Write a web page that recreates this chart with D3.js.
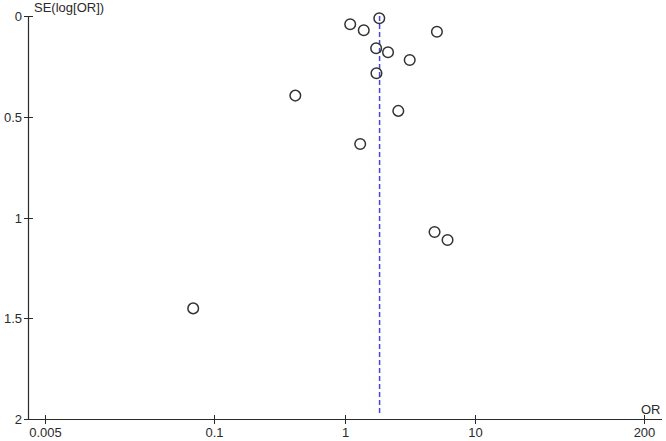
<!DOCTYPE html>
<html>
<head>
<meta charset="utf-8">
<script src="https://cdn.jsdelivr.net/npm/d3@7"></script>
<style>
  html, body { margin: 0; padding: 0; background: #fff; }
  svg { display: block; }
  text { font-family: "Liberation Sans", Arial, sans-serif; }
</style>
</head>
<body>
<svg id="chart" width="666" height="441"></svg>
<script>
// Study odds ratios and standard errors of log(OR)
const oddsRatios = [1.85, 1.106, 1.406, 5.13, 1.75, 2.16, 3.17, 1.76, 0.419, 2.59, 1.32, 4.92, 6.19, 0.0688];
const standardErrors = [0.011, 0.041, 0.071, 0.078, 0.160, 0.180, 0.218, 0.284, 0.395, 0.471, 0.635, 1.072, 1.112, 1.451];
const pooledOR = [1.86];
const xTickValues = [0.005, 0.1, 1, 10, 200];
const xTickLabels = ["0.005", "0.1", "1", "10", "200"];
const yTickValues = [0, 0.5, 1, 1.5, 2];
const yTickLabels = ["0", "0.5", "1", "1.5", "2"];
const xAxisTitle = "OR";
const yAxisTitle = "SE(log[OR])";

const svg = d3.select("#chart");
const axisX0 = 28, axisX1 = 662;

const x = d3.scaleLog().domain([0.005, 200]).range([45, 644]);
const y = d3.scaleLinear().domain([0, 2]).range([16, 419]);

const ink = "#2a2a2a";
const fs = 13;

// Y axis line
svg.append("line")
  .attr("x1", axisX0 + 0.5).attr("x2", axisX0 + 0.5)
  .attr("y1", y(0)).attr("y2", y(2))
  .attr("stroke", ink).attr("stroke-width", 1.2);

// X axis line
svg.append("line")
  .attr("x1", axisX0).attr("x2", axisX1)
  .attr("y1", y(2) + 0.5).attr("y2", y(2) + 0.5)
  .attr("stroke", ink).attr("stroke-width", 1.2);

// Y ticks
const yg = svg.append("g");
yTickValues.forEach((v, i) => {
  const py = Math.round(y(v)) + 0.5;
  yg.append("line")
    .attr("x1", axisX0 - 4).attr("x2", axisX0 + 5)
    .attr("y1", py).attr("y2", py)
    .attr("stroke", ink).attr("stroke-width", 1);
  yg.append("text")
    .attr("x", axisX0 - 6).attr("y", py + 4.5)
    .attr("text-anchor", "end")
    .attr("font-size", fs).attr("fill", ink)
    .text(yTickLabels[i]);
});

// X ticks
const xg = svg.append("g");
xTickValues.forEach((v, i) => {
  const px = Math.round(x(v)) + 0.5;
  xg.append("line")
    .attr("x1", px).attr("x2", px)
    .attr("y1", y(2) - 4).attr("y2", y(2) + 5)
    .attr("stroke", ink).attr("stroke-width", 1);
  xg.append("text")
    .attr("x", px).attr("y", y(2) + 18)
    .attr("text-anchor", "middle")
    .attr("font-size", fs).attr("fill", ink)
    .text(xTickLabels[i]);
});

// Axis titles
svg.append("text")
  .attr("x", axisX0 + 6).attr("y", 12)
  .attr("font-size", fs).attr("fill", ink)
  .text(yAxisTitle);
svg.append("text")
  .attr("x", x(200) - 3).attr("y", y(2) - 5)
  .attr("font-size", fs).attr("fill", ink)
  .text(xAxisTitle);

// Pooled estimate dashed line
svg.selectAll("line.pooled").data(pooledOR).enter().append("line")
  .attr("class", "pooled")
  .attr("x1", d => x(d)).attr("x2", d => x(d))
  .attr("y1", y(0)).attr("y2", y(2) - 6)
  .attr("stroke", "#4646dc").attr("stroke-width", 1.5)
  .attr("stroke-dasharray", "5,3");

// Study points
const pts = oddsRatios.map((or, i) => ({ or, se: standardErrors[i] }));
svg.selectAll("circle.study").data(pts).enter().append("circle")
  .attr("class", "study")
  .attr("cx", d => x(d.or)).attr("cy", d => y(d.se))
  .attr("r", 5.3)
  .attr("fill", "none")
  .attr("stroke", "#333")
  .attr("stroke-width", 1.5);
</script>
</body>
</html>
